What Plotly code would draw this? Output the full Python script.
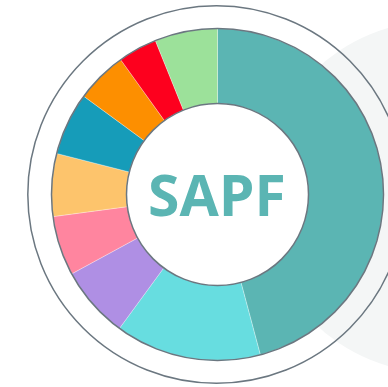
import plotly.graph_objects as go

W, H = 388, 387

# slices, clockwise from 12 o'clock
labels = ['S1', 'S2', 'S3', 'S4', 'S5', 'S6', 'S7', 'S8', 'S9']
values = [45.8, 14.2, 7.0, 5.8, 6.1, 6.1, 5.0, 3.8, 6.1]
colors = ['#5bb5b3', '#67dde0', '#af8fe4', '#ff859f', '#fdc46c',
          '#169cb9', '#fd8f00', '#fd001e', '#9ce19a']
center_text = 'SAPF'

# geometry in pixels (from top-left)
cx, cy = 217.5, 194.5
r_out, r_in = 166, 91
r_ring = 188.7
outline = '#6b7780'


def px_x(x):
    return x / W


def px_y(y):
    return (H - y) / H


def circle(x, y, r, **kw):
    return dict(type='circle', xref='paper', yref='paper',
                x0=px_x(x - r), x1=px_x(x + r),
                y0=px_y(y + r), y1=px_y(y - r), **kw)


fig = go.Figure(go.Pie(
    labels=labels,
    values=values,
    marker=dict(colors=colors, line=dict(color='rgba(255,255,255,0.6)', width=0.5)),
    hole=r_in / r_out,
    sort=False,
    direction='clockwise',
    rotation=0,
    textinfo='none',
    hoverinfo='label+percent',
    domain=dict(x=[px_x(cx - r_out), px_x(cx + r_out)],
                y=[px_y(cy + r_out), px_y(cy - r_out)]),
))

shapes = [
    # light grey circle in the background on the right
    circle(437, 197, 176, layer='below', fillcolor='#f4f6f6', line=dict(width=0)),
    # white centre of the donut
    circle(cx, cy, r_in, layer='below', fillcolor='white', line=dict(width=0)),
    # outer ring
    circle(cx - 1, cy, r_ring, layer='above', line=dict(color=outline, width=1.5)),
    # donut borders
    circle(cx, cy, r_out, layer='above', line=dict(color=outline, width=1.5)),
    circle(cx, cy, r_in, layer='above', line=dict(color=outline, width=1.5)),
]

fig.update_layout(
    width=W, height=H,
    margin=dict(l=0, r=0, t=0, b=0),
    paper_bgcolor='white',
    plot_bgcolor='white',
    showlegend=False,
    shapes=shapes,
    annotations=[dict(
        text=f'<b>{center_text}</b>', x=px_x(cx - 1), y=px_y(cy - 1),
        xref='paper', yref='paper', showarrow=False,
        xanchor='center', yanchor='middle',
        font=dict(family='Open Sans', size=57, color='#5bb5b3'),
    )],
)

# drop the default page margin so the figure sits at the window's corner
fig.write_html("out.html",
               config={'displayModeBar': False},
               post_script="document.body.style.margin='0';"
                           "document.body.style.overflow='hidden';")
